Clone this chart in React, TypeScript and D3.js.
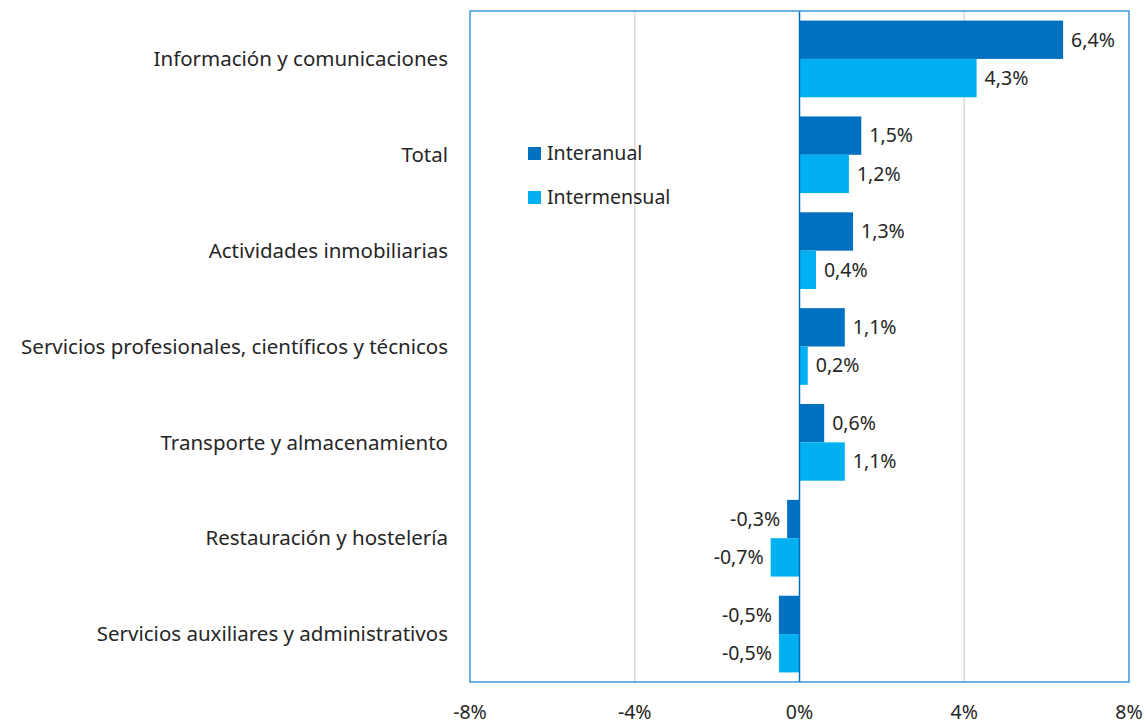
import * as d3 from "d3";

const CATEGORIES = [
  "Información y comunicaciones",
  "Total",
  "Actividades inmobiliarias",
  "Servicios profesionales, científicos y técnicos",
  "Transporte y almacenamiento",
  "Restauración y hostelería",
  "Servicios auxiliares y administrativos",
];
const INTERANUAL = [6.4, 1.5, 1.3, 1.1, 0.6, -0.3, -0.5];
const INTERMENSUAL = [4.3, 1.2, 0.4, 0.2, 1.1, -0.7, -0.5];
const SERIES = ["Interanual", "Intermensual"];
const X_TICKS = [-8, -4, 0, 4, 8];

const COLORS = ["#0070c0", "#00b0f0"];
const WIDTH = 1146;
const HEIGHT = 724;
const MARGIN = { top: 11, right: 17, bottom: 42, left: 470 };
const FONT = "'Noto Sans', sans-serif";
const TEXT = "#262626";

const fmt = (v: number) => `${v.toFixed(1).replace(".", ",")}%`;

export default function App() {
  const x = d3
    .scaleLinear()
    .domain([-8, 8])
    .range([MARGIN.left, WIDTH - MARGIN.right]);
  const y = d3
    .scaleBand()
    .domain(CATEGORIES)
    .range([MARGIN.top, HEIGHT - MARGIN.bottom])
    .paddingInner(0.2)
    .paddingOuter(0.1);
  const inner = d3.scaleBand().domain(SERIES).range([0, y.bandwidth()]);
  const seriesValues = [INTERANUAL, INTERMENSUAL];

  const top = MARGIN.top;
  const bottom = HEIGHT - MARGIN.bottom;

  return (
    <svg
      width={WIDTH}
      height={HEIGHT}
      style={{ position: "absolute", left: 0, top: 0, background: "#fff" }}
      fontFamily={FONT}
    >
      {/* grid */}
      {X_TICKS.filter((t) => t !== 0 && Math.abs(t) !== 8).map((t) => (
        <line
          key={t}
          x1={x(t)}
          x2={x(t)}
          y1={top}
          y2={bottom}
          stroke="#d9d9d9"
          strokeWidth={1.5}
        />
      ))}

      {/* bars */}
      {CATEGORIES.map((c, i) => (
        <g key={c}>
          {SERIES.map((s, k) => {
            const v = seriesValues[k][i];
            const by = (y(c) ?? 0) + (inner(s) ?? 0);
            const x0 = Math.min(x(0), x(v));
            const w = Math.abs(x(v) - x(0));
            return (
              <g key={s}>
                <rect x={x0} y={by} width={w} height={inner.bandwidth()} fill={COLORS[k]} />
                <text
                  x={v >= 0 ? x(v) + 8 : x(v) - 7}
                  y={by + inner.bandwidth() / 2}
                  dy="0.35em"
                  textAnchor={v >= 0 ? "start" : "end"}
                  fontSize={19.5}
                  fill={TEXT}
                >
                  {fmt(v)}
                </text>
              </g>
            );
          })}
          <text
            x={MARGIN.left - 22}
            y={(y(c) ?? 0) + y.bandwidth() / 2}
            dy="0.35em"
            textAnchor="end"
            fontSize={20.5}
            fill={TEXT}
          >
            {c}
          </text>
        </g>
      ))}

      {/* zero line */}
      <line x1={x(0)} x2={x(0)} y1={top} y2={bottom} stroke="#0070c0" strokeWidth={1.5} />

      {/* frame */}
      <rect
        x={MARGIN.left}
        y={top}
        width={WIDTH - MARGIN.left - MARGIN.right}
        height={bottom - top}
        fill="none"
        stroke="#3c96dc"
        strokeWidth={1.5}
      />

      {/* x ticks */}
      {X_TICKS.map((t) => (
        <text key={t} x={x(t)} y={bottom + 37} textAnchor="middle" fontSize={19.5} fill={TEXT}>
          {`${t}%`}
        </text>
      ))}

      {/* legend */}
      {SERIES.map((s, k) => (
        <g key={s} transform={`translate(528, ${147 + k * 44})`}>
          <rect width={13} height={13} fill={COLORS[k]} />
          <text x={19} y={6.5} dy="0.35em" fontSize={19.5} fill={TEXT}>
            {s}
          </text>
        </g>
      ))}
    </svg>
  );
}
